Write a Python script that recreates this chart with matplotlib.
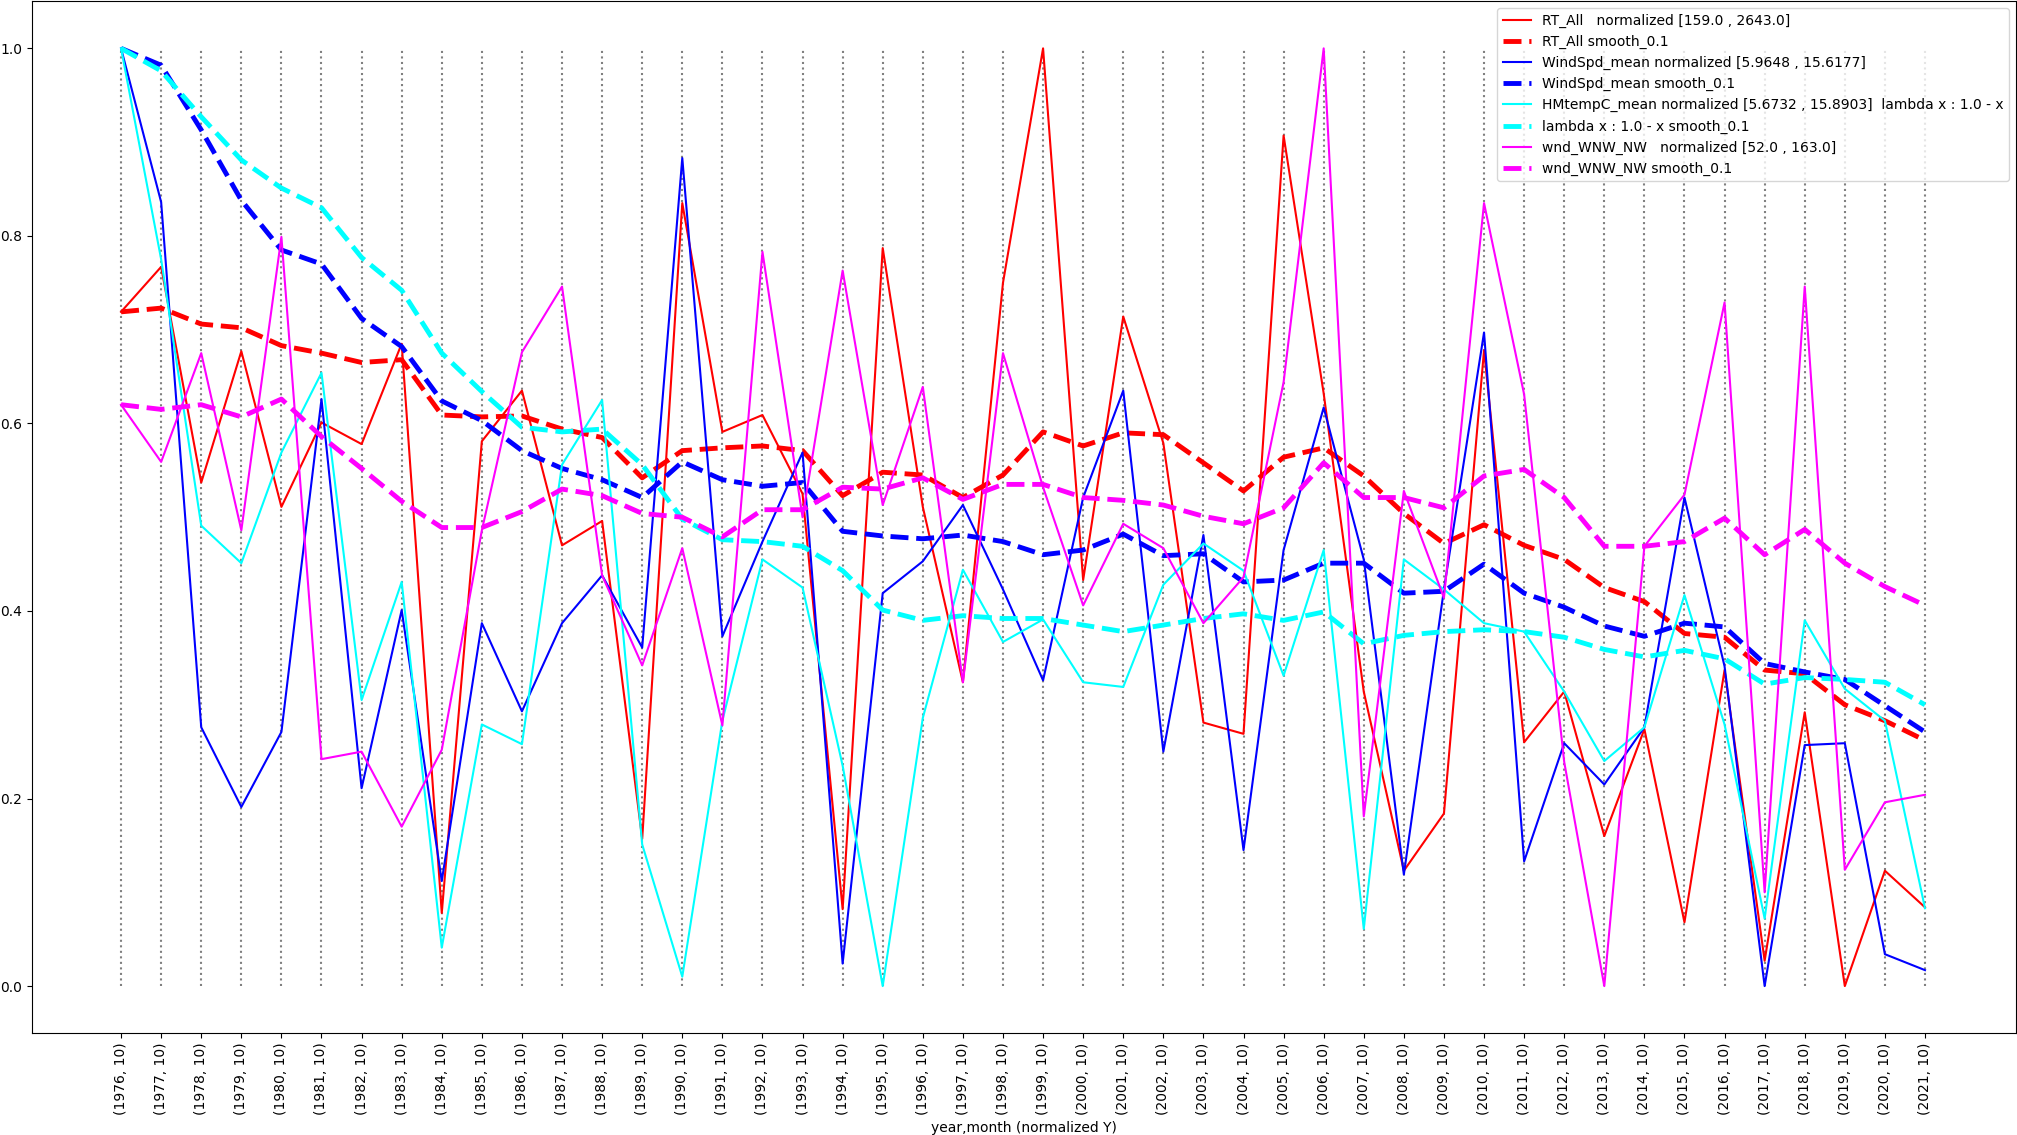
import numpy as np
import matplotlib
matplotlib.use("Agg")
import matplotlib.pyplot as plt

# --------------------
# Data
# --------------------
years = list(range(1976, 2022))
tick_labels = ["(%d, 10)" % y for y in years]

rt_all = [0.719, 0.767, 0.537, 0.677, 0.511, 0.601, 0.578, 0.685, 0.078, 0.581,
          0.635, 0.470, 0.496, 0.157, 0.835, 0.591, 0.609, 0.525, 0.082, 0.787,
          0.511, 0.324, 0.750, 1.000, 0.433, 0.714, 0.579, 0.281, 0.269, 0.907,
          0.632, 0.314, 0.123, 0.184, 0.678, 0.260, 0.314, 0.160, 0.274, 0.068,
          0.337, 0.027, 0.292, 0.000, 0.123, 0.084]
rt_all_smooth = [0.719, 0.723, 0.706, 0.702, 0.683, 0.675, 0.665, 0.668, 0.609, 0.607,
                 0.608, 0.594, 0.585, 0.542, 0.571, 0.574, 0.576, 0.571, 0.523, 0.548,
                 0.545, 0.521, 0.545, 0.591, 0.576, 0.590, 0.588, 0.558, 0.528, 0.564,
                 0.574, 0.544, 0.504, 0.472, 0.492, 0.470, 0.455, 0.425, 0.410, 0.376,
                 0.372, 0.337, 0.333, 0.300, 0.283, 0.262]

wind = [1.000, 0.836, 0.276, 0.191, 0.271, 0.626, 0.211, 0.401, 0.112, 0.387,
        0.293, 0.387, 0.438, 0.361, 0.883, 0.373, 0.474, 0.569, 0.024, 0.419,
        0.453, 0.513, 0.423, 0.326, 0.521, 0.635, 0.250, 0.481, 0.145, 0.465,
        0.617, 0.455, 0.119, 0.423, 0.697, 0.133, 0.259, 0.215, 0.276, 0.521,
        0.341, 0.000, 0.257, 0.259, 0.034, 0.017]
wind_smooth = [1.000, 0.982, 0.913, 0.838, 0.785, 0.770, 0.712, 0.682, 0.624, 0.603,
               0.571, 0.552, 0.540, 0.521, 0.559, 0.540, 0.533, 0.537, 0.485, 0.480,
               0.477, 0.481, 0.474, 0.460, 0.465, 0.482, 0.459, 0.461, 0.431, 0.433,
               0.451, 0.451, 0.419, 0.421, 0.450, 0.419, 0.404, 0.384, 0.373, 0.387,
               0.383, 0.344, 0.335, 0.327, 0.299, 0.271]

temp = [1.000, 0.775, 0.491, 0.451, 0.569, 0.654, 0.305, 0.431, 0.041, 0.279,
        0.258, 0.556, 0.625, 0.151, 0.010, 0.283, 0.455, 0.425, 0.235, 0.000,
        0.286, 0.444, 0.367, 0.391, 0.324, 0.319, 0.428, 0.472, 0.443, 0.331,
        0.465, 0.061, 0.455, 0.423, 0.387, 0.378, 0.314, 0.240, 0.276, 0.417,
        0.279, 0.072, 0.390, 0.317, 0.283, 0.083]
temp_smooth = [1.000, 0.976, 0.927, 0.881, 0.851, 0.830, 0.777, 0.742, 0.675, 0.634,
               0.596, 0.591, 0.594, 0.556, 0.498, 0.476, 0.474, 0.469, 0.443, 0.401,
               0.390, 0.395, 0.392, 0.392, 0.385, 0.378, 0.385, 0.392, 0.397, 0.390,
               0.399, 0.365, 0.374, 0.378, 0.380, 0.378, 0.372, 0.359, 0.351, 0.358,
               0.349, 0.322, 0.329, 0.327, 0.324, 0.300]

wnw = [0.620, 0.559, 0.675, 0.486, 0.799, 0.242, 0.250, 0.170, 0.252, 0.486,
       0.676, 0.746, 0.438, 0.342, 0.467, 0.278, 0.783, 0.500, 0.763, 0.513,
       0.639, 0.324, 0.675, 0.532, 0.406, 0.493, 0.467, 0.387, 0.436, 0.644,
       1.000, 0.181, 0.528, 0.414, 0.835, 0.631, 0.239, 0.000, 0.469, 0.524,
       0.729, 0.100, 0.746, 0.124, 0.196, 0.204]
wnw_smooth = [0.620, 0.615, 0.620, 0.607, 0.626, 0.586, 0.552, 0.517, 0.489, 0.489,
              0.506, 0.530, 0.523, 0.504, 0.500, 0.479, 0.508, 0.508, 0.532, 0.530,
              0.542, 0.519, 0.535, 0.535, 0.521, 0.518, 0.513, 0.501, 0.493, 0.510,
              0.558, 0.521, 0.521, 0.510, 0.544, 0.551, 0.521, 0.469, 0.469, 0.474,
              0.499, 0.460, 0.487, 0.451, 0.426, 0.406]

x = np.arange(len(years))

# --------------------
# Plot
# --------------------
fig = plt.figure(figsize=(20.17, 11.35), dpi=100)
ax = fig.add_axes([0.0157, 0.0899, 0.9838, 0.9088])

ax.vlines(x, 0, 1, colors="gray", linestyles=":", linewidth=1.5)

ax.plot(x, rt_all, color="red", lw=1.5, label="RT_All   normalized [159.0 , 2643.0]")
ax.plot(x, rt_all_smooth, color="red", lw=3.5, ls="--", label="RT_All smooth_0.1")
ax.plot(x, wind, color="blue", lw=1.5, label="WindSpd_mean normalized [5.9648 , 15.6177]")
ax.plot(x, wind_smooth, color="blue", lw=3.5, ls="--", label="WindSpd_mean smooth_0.1")
ax.plot(x, temp, color="cyan", lw=1.5,
        label="HMtempC_mean normalized [5.6732 , 15.8903]  lambda x : 1.0 - x")
ax.plot(x, temp_smooth, color="cyan", lw=3.5, ls="--", label="lambda x : 1.0 - x smooth_0.1")
ax.plot(x, wnw, color="magenta", lw=1.5, label="wnd_WNW_NW   normalized [52.0 , 163.0]")
ax.plot(x, wnw_smooth, color="magenta", lw=3.5, ls="--", label="wnd_WNW_NW smooth_0.1")

ax.set_xticks(x)
ax.set_xticklabels(tick_labels, rotation=90)
ax.set_xlim(-2.23, 47.27)
ax.set_ylim(-0.05, 1.05)
ax.set_xlabel("year,month (normalized Y)")
ax.legend(loc="upper right")

fig.savefig("out.png", dpi=100)
